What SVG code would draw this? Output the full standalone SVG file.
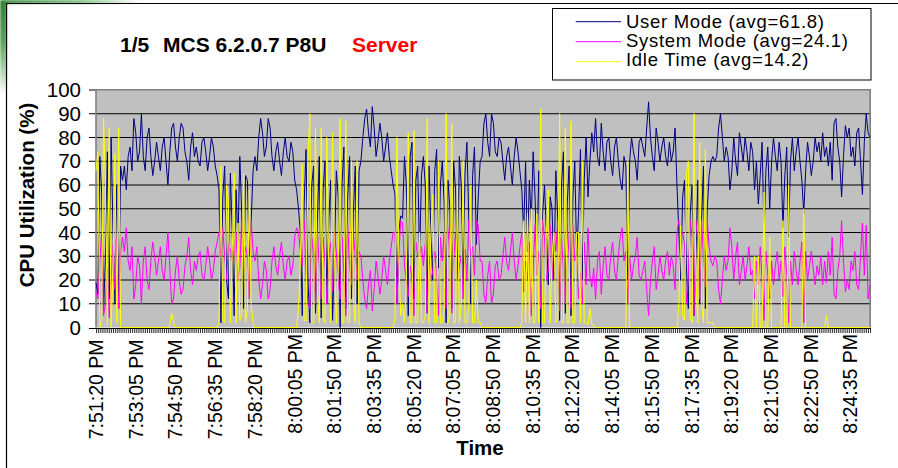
<svg xmlns="http://www.w3.org/2000/svg" width="898" height="468" viewBox="0 0 898 468">
  <defs>
    <linearGradient id="greenV" x1="0" y1="0" x2="0" y2="1">
      <stop offset="0" stop-color="#2f7f2f"/>
      <stop offset="0.45" stop-color="#5aa55a"/>
      <stop offset="1" stop-color="#ffffff"/>
    </linearGradient>
    <linearGradient id="greenH" x1="0" y1="0" x2="1" y2="0">
      <stop offset="0" stop-color="#2f7f2f"/>
      <stop offset="0.6" stop-color="#7fc07f"/>
      <stop offset="1" stop-color="#ffffff"/>
    </linearGradient>
    <filter id="soft" x="-20%" y="-20%" width="140%" height="140%">
      <feGaussianBlur stdDeviation="1.2"/>
    </filter>
  </defs>
  <style>
    .lbl { font-family: "Liberation Sans", Arial, sans-serif; fill: #000; }
    .ytick { font-size: 20.5px; text-anchor: end; }
    .xtick { font-size: 19.5px; text-anchor: end; }
    .legend { font-size: 18.5px; letter-spacing: 0.7px; }
    .title { font-size: 21px; font-weight: bold; }
    .axtitle { font-size: 20.5px; font-weight: bold; text-anchor: middle; }
    .grid { stroke: #000; stroke-width: 1; }
    .series { fill: none; stroke-width: 1; vector-effect: non-scaling-stroke; stroke-linejoin: miter; }
    .user { stroke: #000080; }
    .sys { stroke: #ff00ff; }
    .idle { stroke: #ffff00; }
  </style>

  <rect width="898" height="468" fill="#fff"/>

  <!-- corner decoration -->
  <g filter="url(#soft)">
    <rect x="0" y="0" width="6.5" height="95" fill="url(#greenV)"/>
    <rect x="0" y="0" width="140" height="3.5" fill="url(#greenH)"/>
  </g>
  <!-- frame -->
  <path d="M6.5,468 V3.5 H898" fill="none" stroke="#000" stroke-width="1.2"/>

  <!-- title -->
  <g id="title">
    <text class="lbl title" x="120" y="52">1/5</text>
    <text class="lbl title" x="163" y="52">MCS 6.2.0.7 P8U</text>
    <text class="lbl title" x="352" y="52" style="fill:#ff0000">Server</text>
  </g>

  <!-- legend -->
  <g id="legend">
    <rect x="552.5" y="8.5" width="318.5" height="71.5" fill="#fff" stroke="#000" stroke-width="1"/>
    <line x1="575.7" y1="21.7" x2="621" y2="21.7" stroke="#000080" stroke-width="1"/>
    <line x1="575.7" y1="41.7" x2="621" y2="41.7" stroke="#ff00ff" stroke-width="1"/>
    <line x1="575.7" y1="61.7" x2="621" y2="61.7" stroke="#ffff00" stroke-width="1"/>
    <text class="lbl legend" x="626" y="27.7">User Mode (avg=61.8)</text>
    <text class="lbl legend" x="626" y="46.7">System Mode (avg=24.1)</text>
    <text class="lbl legend" x="626" y="65.7">Idle Time (avg=14.2)</text>
  </g>

  <!-- plot area -->
  <g id="plot">
    <rect x="96" y="90" width="774" height="237.5" fill="#c0c0c0"/>
    <g class="grid">
      <line x1="89" y1="90" x2="96" y2="90"/>
      <line x1="89" y1="113.75" x2="870" y2="113.75"/>
      <line x1="89" y1="137.5" x2="870" y2="137.5"/>
      <line x1="89" y1="161.25" x2="870" y2="161.25"/>
      <line x1="89" y1="185" x2="870" y2="185"/>
      <line x1="89" y1="208.75" x2="870" y2="208.75"/>
      <line x1="89" y1="232.5" x2="870" y2="232.5"/>
      <line x1="89" y1="256.25" x2="870" y2="256.25"/>
      <line x1="89" y1="280" x2="870" y2="280"/>
      <line x1="89" y1="303.75" x2="870" y2="303.75"/>
    </g>
    <path d="M96,327.5 V89.8 H870.2 V327.5" fill="none" stroke="#808080" stroke-width="1.6"/>
  </g>

  <!-- x axis and ticks -->
  <g id="xaxis">
    <line x1="89" y1="328.5" x2="871" y2="328.5" stroke="#000" stroke-width="1"/>
    <line x1="96" y1="331" x2="871" y2="331" stroke="#222" stroke-width="4" stroke-dasharray="0.9 0.9924"/>
  </g>

  <!-- data series -->
  <g id="series" transform="translate(96,327.5) scale(1.8924,-2.375)">
    <polyline id="user-mode" class="series user" points="0,19 1,14 2,72 3,57 4,7 5,30 6,74 7,12 8,80 9,40 10,10 11,60 12,8 13,68 14,62 15,68 16,58 17,72 18,76 19,66 20,88 21,82 22,70 23,74 24,90 25,72 26,66 27,80 28,84 29,72 30,64 31,70 32,78 33,72 34,66 35,76 36,80 37,70 38,60 39,74 40,84 41,86 42,76 43,70 44,80 45,86 46,84 47,74 48,70 49,62 50,76 51,82 52,72 53,76 54,70 55,68 56,78 57,80 58,74 59,66 60,72 61,80 62,76 63,68 64,64 65,58 66,2 67,55 68,68 69,20 70,12 71,65 72,40 73,5 74,58 75,36 76,72 77,48 78,8 79,64 80,62 81,30 82,45 83,66 84,72 85,66 86,80 87,88 88,82 89,72 90,76 91,88 92,84 93,72 94,66 95,74 96,78 97,70 98,64 99,74 100,80 101,72 102,70 103,78 104,74 105,62 106,58 107,50 108,40 109,5 110,52 111,75 112,20 113,2 114,60 115,68 116,6 117,45 118,72 119,4 120,58 121,70 122,10 123,45 124,62 125,3 126,30 127,66 128,55 129,0 130,60 131,76 132,8 133,55 134,72 135,12 136,48 137,68 138,10 139,66 140,70 141,80 142,88 143,92 144,82 145,76 146,93 147,84 148,72 149,78 150,86 151,80 152,70 153,76 154,82 155,72 156,66 157,60 158,56 159,10 160,40 161,47 162,46 163,72 164,60 165,5 166,72 167,78 168,12 169,62 170,68 171,30 172,64 173,72 174,60 175,6 176,68 177,40 178,20 179,66 180,75 181,25 182,60 183,70 184,52 185,2 186,62 187,50 188,8 189,70 190,58 191,20 192,72 193,60 194,18 195,65 196,78 197,45 198,10 199,64 200,76 201,35 202,55 203,70 204,72 205,86 206,90 207,78 208,72 209,90 210,86 211,74 212,72 213,80 214,78 215,70 216,62 217,72 218,76 219,68 220,60 221,72 222,80 223,74 224,66 225,58 226,40 227,70 228,32 229,62 230,45 231,74 232,55 233,30 234,66 235,0 236,48 237,60 238,40 239,18 240,55 241,50 242,20 243,66 244,46 245,3 246,60 247,74 248,6 249,52 250,68 251,5 252,55 253,70 254,30 255,48 256,75 257,20 258,62 259,80 260,55 261,70 262,82 263,74 264,88 265,72 266,68 267,86 268,74 269,66 270,78 271,80 272,70 273,64 274,76 275,80 276,70 277,62 278,58 279,72 280,68 281,20 282,70 283,80 284,74 285,70 286,62 287,78 288,80 289,76 290,72 291,84 292,95 293,80 294,72 295,66 296,84 297,78 298,70 299,76 300,80 301,72 302,68 303,78 304,70 305,74 306,84 307,60 308,40 309,20 310,55 311,62 312,25 313,8 314,48 315,60 316,5 317,30 318,62 319,10 320,45 321,68 322,8 323,50 324,64 325,70 326,72 327,70 328,72 329,84 330,90 331,80 332,70 333,76 334,72 335,58 336,66 337,80 338,70 339,64 340,82 341,76 342,70 343,80 344,74 345,66 346,78 347,74 348,58 349,70 350,52 351,64 352,78 353,40 354,66 355,76 356,50 357,70 358,80 359,72 360,66 361,78 362,70 363,42 364,64 365,76 366,38 367,70 368,80 369,66 370,74 371,80 372,70 373,62 374,48 375,66 376,78 377,72 378,64 379,70 380,80 381,74 382,78 383,70 384,82 385,72 386,76 387,68 388,78 389,62 390,86 391,88 392,76 393,70 394,55 395,72 396,85 397,80 398,84 399,72 400,76 401,68 402,82 403,84 404,70 405,56 406,78 407,90 408,82 409,80"/>
    <polyline id="system-mode" class="series sys" points="0,15 1,12 2,28 3,40 4,5 5,10 6,25 7,4 8,20 9,35 10,16 11,38 12,8 13,32 14,38 15,32 16,42 17,28 18,24 19,34 20,12 21,18 22,30 23,26 24,10 25,28 26,34 27,20 28,16 29,28 30,36 31,30 32,22 33,28 34,34 35,24 36,20 37,30 38,40 39,25 40,10 41,12 42,24 43,30 44,20 45,14 46,16 47,26 48,30 49,38 50,24 51,18 52,28 53,24 54,30 55,32 56,22 57,20 58,26 59,34 60,28 61,20 62,24 63,32 64,36 65,40 66,30 67,42 68,30 69,20 70,35 71,33 72,28 73,30 74,40 75,20 76,25 77,45 78,27 79,34 80,30 81,12 82,45 83,32 84,28 85,34 86,20 87,12 88,18 89,28 90,24 91,12 92,16 93,28 94,34 95,26 96,22 97,30 98,36 99,26 100,20 101,28 102,30 103,22 104,26 105,38 106,42 107,40 108,32 109,26 110,45 111,22 112,10 113,8 114,38 115,30 116,10 117,40 118,26 119,12 120,38 121,28 122,10 123,30 124,36 125,15 126,40 127,32 128,20 129,12 130,38 131,22 132,5 133,43 134,26 135,18 136,40 137,30 138,20 139,32 140,30 141,20 142,12 143,8 144,18 145,24 146,7 147,16 148,28 149,22 150,14 151,20 152,30 153,24 154,18 155,28 156,34 157,40 158,40 159,10 160,30 161,45 162,44 163,26 164,20 165,13 166,26 167,20 168,5 169,36 170,30 171,30 172,34 173,26 174,35 175,6 176,30 177,20 178,24 179,32 180,23 181,5 182,38 183,28 184,40 185,8 186,36 187,45 188,6 189,28 190,40 191,20 192,26 193,30 194,12 195,33 196,20 197,45 198,30 199,34 200,22 201,45 202,43 203,28 204,28 205,14 206,10 207,22 208,28 209,10 210,14 211,26 212,28 213,20 214,22 215,30 216,38 217,28 218,24 219,32 220,40 221,28 222,20 223,26 224,34 225,40 226,15 227,28 228,20 229,36 230,5 231,24 232,43 233,22 234,32 235,8 236,45 237,38 238,20 239,24 240,43 241,20 242,40 243,32 244,45 245,7 246,38 247,24 248,10 249,44 250,30 251,8 252,43 253,28 254,30 255,12 256,23 257,10 258,36 259,18 260,42 261,22 262,17 263,25 264,12 265,28 266,32 267,14 268,26 269,34 270,22 271,20 272,30 273,36 274,24 275,20 276,30 277,38 278,42 279,28 280,32 281,10 282,30 283,20 284,26 285,30 286,38 287,22 288,20 289,24 290,28 291,16 292,5 293,20 294,28 295,34 296,16 297,22 298,30 299,24 300,20 301,28 302,32 303,22 304,30 305,26 306,16 307,40 308,45 309,37 310,40 311,35 312,10 313,22 314,45 315,38 316,5 317,45 318,36 319,12 320,45 321,30 322,17 323,45 324,34 325,28 326,26 327,30 328,28 329,16 330,10 331,20 332,30 333,24 334,28 335,42 336,34 337,20 338,30 339,36 340,18 341,24 342,30 343,20 344,26 345,34 346,22 347,24 348,12 349,28 350,18 351,34 352,20 353,3 354,32 355,22 356,12 357,28 358,18 359,26 360,32 361,20 362,28 363,13 364,34 365,22 366,2 367,28 368,18 369,32 370,24 371,18 372,28 373,36 374,2 375,32 376,20 377,26 378,32 379,25 380,18 381,26 382,22 383,30 384,18 385,28 386,19 387,32 388,22 389,38 390,14 391,12 392,24 393,30 394,45 395,28 396,15 397,20 398,16 399,28 400,24 401,32 402,18 403,16 404,30 405,44 406,22 407,43 408,12 409,18"/>
    <polyline id="idle-time" class="series idle" points="0,66 1,74 2,0 3,3 4,88 5,60 6,1 7,84 8,0 9,25 10,73 11,2 12,84 13,0 38,0 39,1 40,6 41,2 42,0 64,0 65,2 66,68 67,3 68,2 69,60 70,53 71,2 72,32 73,65 74,2 75,44 76,3 77,6 78,65 79,2 80,8 81,58 82,10 83,2 84,0 106,0 107,8 108,28 109,69 110,3 111,3 112,70 113,90 114,2 115,2 116,84 117,15 118,2 119,84 120,4 121,2 122,80 123,25 124,2 125,82 126,30 127,2 128,25 129,88 130,2 131,2 132,87 133,2 134,2 135,70 136,12 137,2 138,70 139,2 140,0 157,0 158,4 159,80 160,30 161,5 162,10 163,2 164,20 165,82 166,2 167,2 168,83 169,2 170,2 171,40 172,2 173,2 174,5 175,88 176,2 177,40 178,56 179,2 180,2 181,70 182,2 183,2 184,8 185,90 186,2 187,5 188,86 189,2 190,2 191,60 192,2 193,10 194,70 195,2 196,2 197,10 198,60 199,2 200,2 201,20 202,2 203,2 204,0 224,0 225,2 226,45 227,2 228,48 229,2 230,50 231,2 232,2 233,48 234,2 235,92 236,2 237,2 238,40 239,58 240,2 241,30 242,40 243,2 244,4 245,90 246,2 247,2 248,84 249,2 250,2 251,87 252,2 253,2 254,40 255,40 256,2 257,70 258,2 259,2 260,1 261,8 262,1 263,1 264,0 280,0 281,70 282,0 307,0 308,10 309,43 310,5 311,3 312,65 313,70 314,4 315,2 316,90 317,20 318,2 319,78 320,10 321,2 322,75 323,2 324,2 325,2 326,2 327,0 347,0 348,30 349,0 350,30 351,0 352,0 353,57 354,0 355,0 356,38 357,0 362,0 363,45 364,0 365,0 366,60 367,0 373,0 374,50 375,0 385,0 386,5 387,0 409,0"/>
  </g>

  <!-- y axis labels -->
  <g id="yaxis" class="lbl ytick">
    <text x="81" y="97">100</text>
    <text x="81" y="120.75">90</text>
    <text x="81" y="144.5">80</text>
    <text x="81" y="168.25">70</text>
    <text x="81" y="192">60</text>
    <text x="81" y="215.75">50</text>
    <text x="81" y="239.5">40</text>
    <text x="81" y="263.25">30</text>
    <text x="81" y="287">20</text>
    <text x="81" y="310.75">10</text>
    <text x="81" y="334.5">0</text>
  </g>
  <text id="ytitle" class="lbl axtitle" transform="translate(33.5,195) rotate(-90)">CPU Utilization (%)</text>

  <!-- x axis labels -->
  <g id="xlabels" class="lbl xtick">
    <text transform="translate(103,339.5) rotate(-90)">7:51:20 PM</text>
    <text transform="translate(142.7,339.5) rotate(-90)">7:53:05 PM</text>
    <text transform="translate(182.4,339.5) rotate(-90)">7:54:50 PM</text>
    <text transform="translate(222.1,339.5) rotate(-90)">7:56:35 PM</text>
    <text transform="translate(261.8,339.5) rotate(-90)">7:58:20 PM</text>
    <text transform="translate(301.5,334) rotate(-90)">8:00:05 PM</text>
    <text transform="translate(341.2,334) rotate(-90)">8:01:50 PM</text>
    <text transform="translate(380.9,334) rotate(-90)">8:03:35 PM</text>
    <text transform="translate(420.6,334) rotate(-90)">8:05:20 PM</text>
    <text transform="translate(460.3,334) rotate(-90)">8:07:05 PM</text>
    <text transform="translate(500,334) rotate(-90)">8:08:50 PM</text>
    <text transform="translate(539.7,334) rotate(-90)">8:10:35 PM</text>
    <text transform="translate(579.4,334) rotate(-90)">8:12:20 PM</text>
    <text transform="translate(619.1,334) rotate(-90)">8:14:05 PM</text>
    <text transform="translate(658.8,334) rotate(-90)">8:15:50 PM</text>
    <text transform="translate(698.5,334) rotate(-90)">8:17:35 PM</text>
    <text transform="translate(738.2,334) rotate(-90)">8:19:20 PM</text>
    <text transform="translate(777.9,334) rotate(-90)">8:21:05 PM</text>
    <text transform="translate(817.6,334) rotate(-90)">8:22:50 PM</text>
    <text transform="translate(857.3,334) rotate(-90)">8:24:35 PM</text>
  </g>
  <text id="xtitle" class="lbl axtitle" x="480" y="455">Time</text>
</svg>
